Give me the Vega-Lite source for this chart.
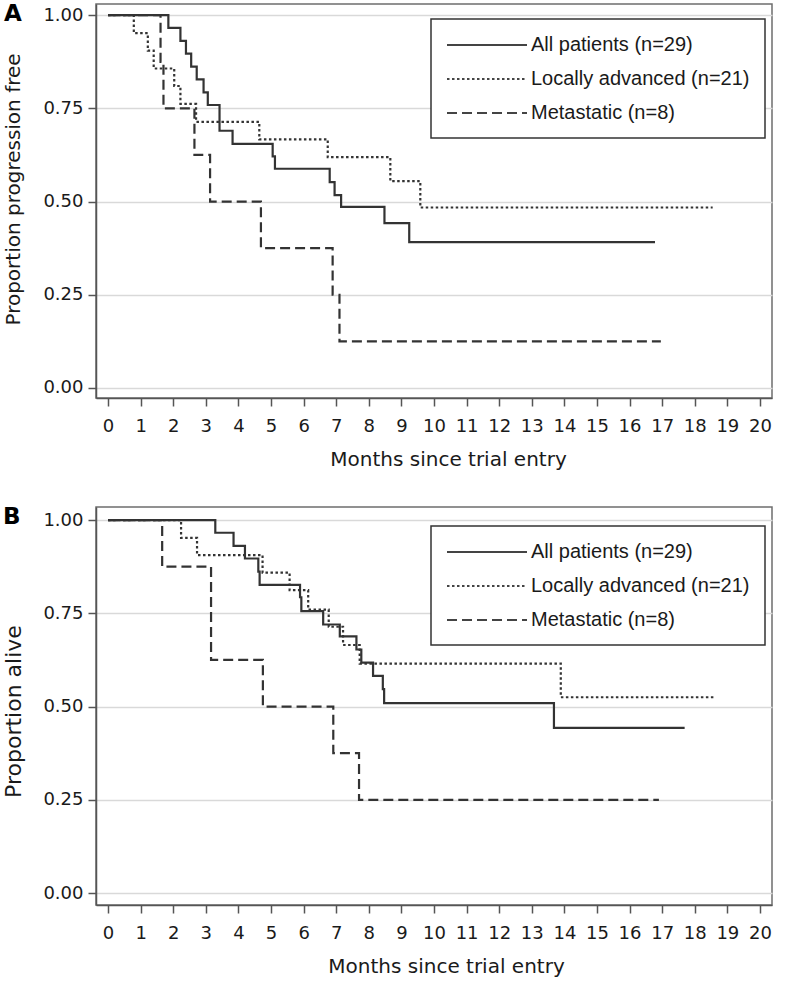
{
  "$schema": "https://vega.github.io/schema/vega-lite/v6.json",
  "autosize": {"type": "pad"},
  "padding": {"left": 2, "top": 2, "right": 0, "bottom": 0},
  "background": "white",
  "config": {
    "view": {"stroke": "#6e6e6e", "strokeWidth": 1.5},
    "axis": {
      "domainColor": "#555555", "domainWidth": 1.5,
      "tickColor": "#555555", "tickWidth": 1.5, "tickSize": 8,
      "labelFont": "DejaVu Sans", "labelFontSize": 18, "labelColor": "#1a1a1a",
      "titleFont": "DejaVu Sans", "titleFontSize": 20, "titleFontWeight": "normal", "titleColor": "#1a1a1a",
      "labelFlush": false, "labelOverlap": false
    },
    "title": {"font": "DejaVu Sans", "fontSize": 23, "fontWeight": "bold", "color": "#000000", "anchor": "start", "frame": "bounds"},
    "legend": {
      "orient": "none", "legendX": 335, "legendY": 15,
      "strokeColor": "#333333", "fillColor": "white", "padding": 15,
      "labelFont": "Liberation Sans", "labelFontSize": 20, "labelColor": "#1a1a1a", "labelLimit": 400,
      "symbolType": "M-1,0H7", "symbolSize": 400, "symbolStrokeWidth": 1.8, "symbolStrokeColor": "#444444",
      "rowPadding": 13, "labelOffset": 63
    }
  },
  "datasets": {
    "km": [
      {"panel": "A", "group": "All patients (n=29)", "month": 0, "prop": 1},
      {"panel": "A", "group": "All patients (n=29)", "month": 1.85, "prop": 0.966},
      {"panel": "A", "group": "All patients (n=29)", "month": 2.22, "prop": 0.931},
      {"panel": "A", "group": "All patients (n=29)", "month": 2.39, "prop": 0.897},
      {"panel": "A", "group": "All patients (n=29)", "month": 2.55, "prop": 0.862},
      {"panel": "A", "group": "All patients (n=29)", "month": 2.72, "prop": 0.828},
      {"panel": "A", "group": "All patients (n=29)", "month": 2.93, "prop": 0.793},
      {"panel": "A", "group": "All patients (n=29)", "month": 3.06, "prop": 0.759},
      {"panel": "A", "group": "All patients (n=29)", "month": 3.42, "prop": 0.69},
      {"panel": "A", "group": "All patients (n=29)", "month": 3.82, "prop": 0.655},
      {"panel": "A", "group": "All patients (n=29)", "month": 5.05, "prop": 0.621},
      {"panel": "A", "group": "All patients (n=29)", "month": 5.12, "prop": 0.588},
      {"panel": "A", "group": "All patients (n=29)", "month": 6.8, "prop": 0.552},
      {"panel": "A", "group": "All patients (n=29)", "month": 6.95, "prop": 0.517},
      {"panel": "A", "group": "All patients (n=29)", "month": 7.15, "prop": 0.486},
      {"panel": "A", "group": "All patients (n=29)", "month": 8.48, "prop": 0.442},
      {"panel": "A", "group": "All patients (n=29)", "month": 9.24, "prop": 0.391},
      {"panel": "A", "group": "All patients (n=29)", "month": 16.78, "prop": 0.391},
      {"panel": "A", "group": "Locally advanced (n=21)", "month": 0, "prop": 1},
      {"panel": "A", "group": "Locally advanced (n=21)", "month": 0.79, "prop": 0.952},
      {"panel": "A", "group": "Locally advanced (n=21)", "month": 1.22, "prop": 0.905},
      {"panel": "A", "group": "Locally advanced (n=21)", "month": 1.4, "prop": 0.857},
      {"panel": "A", "group": "Locally advanced (n=21)", "month": 2.03, "prop": 0.81},
      {"panel": "A", "group": "Locally advanced (n=21)", "month": 2.22, "prop": 0.762},
      {"panel": "A", "group": "Locally advanced (n=21)", "month": 2.7, "prop": 0.714},
      {"panel": "A", "group": "Locally advanced (n=21)", "month": 4.64, "prop": 0.667},
      {"panel": "A", "group": "Locally advanced (n=21)", "month": 6.74, "prop": 0.619},
      {"panel": "A", "group": "Locally advanced (n=21)", "month": 8.66, "prop": 0.555},
      {"panel": "A", "group": "Locally advanced (n=21)", "month": 9.58, "prop": 0.484},
      {"panel": "A", "group": "Locally advanced (n=21)", "month": 18.55, "prop": 0.484},
      {"panel": "A", "group": "Metastatic (n=8)", "month": 0, "prop": 1},
      {"panel": "A", "group": "Metastatic (n=8)", "month": 1.61, "prop": 0.875},
      {"panel": "A", "group": "Metastatic (n=8)", "month": 1.7, "prop": 0.75},
      {"panel": "A", "group": "Metastatic (n=8)", "month": 2.65, "prop": 0.625},
      {"panel": "A", "group": "Metastatic (n=8)", "month": 3.13, "prop": 0.5},
      {"panel": "A", "group": "Metastatic (n=8)", "month": 4.69, "prop": 0.375},
      {"panel": "A", "group": "Metastatic (n=8)", "month": 6.89, "prop": 0.25},
      {"panel": "A", "group": "Metastatic (n=8)", "month": 7.1, "prop": 0.125},
      {"panel": "A", "group": "Metastatic (n=8)", "month": 16.96, "prop": 0.125},
      {"panel": "B", "group": "All patients (n=29)", "month": 0, "prop": 1},
      {"panel": "B", "group": "All patients (n=29)", "month": 3.29, "prop": 0.966},
      {"panel": "B", "group": "All patients (n=29)", "month": 3.85, "prop": 0.931},
      {"panel": "B", "group": "All patients (n=29)", "month": 4.2, "prop": 0.897},
      {"panel": "B", "group": "All patients (n=29)", "month": 4.61, "prop": 0.862},
      {"panel": "B", "group": "All patients (n=29)", "month": 4.65, "prop": 0.826},
      {"panel": "B", "group": "All patients (n=29)", "month": 5.89, "prop": 0.793},
      {"panel": "B", "group": "All patients (n=29)", "month": 5.93, "prop": 0.756},
      {"panel": "B", "group": "All patients (n=29)", "month": 6.6, "prop": 0.72},
      {"panel": "B", "group": "All patients (n=29)", "month": 7.11, "prop": 0.688},
      {"panel": "B", "group": "All patients (n=29)", "month": 7.62, "prop": 0.653},
      {"panel": "B", "group": "All patients (n=29)", "month": 7.77, "prop": 0.618},
      {"panel": "B", "group": "All patients (n=29)", "month": 8.13, "prop": 0.582},
      {"panel": "B", "group": "All patients (n=29)", "month": 8.43, "prop": 0.547},
      {"panel": "B", "group": "All patients (n=29)", "month": 8.47, "prop": 0.509},
      {"panel": "B", "group": "All patients (n=29)", "month": 13.68, "prop": 0.443},
      {"panel": "B", "group": "All patients (n=29)", "month": 17.69, "prop": 0.443},
      {"panel": "B", "group": "Locally advanced (n=21)", "month": 0, "prop": 1},
      {"panel": "B", "group": "Locally advanced (n=21)", "month": 2.24, "prop": 0.952},
      {"panel": "B", "group": "Locally advanced (n=21)", "month": 2.73, "prop": 0.906},
      {"panel": "B", "group": "Locally advanced (n=21)", "month": 4.74, "prop": 0.859},
      {"panel": "B", "group": "Locally advanced (n=21)", "month": 5.57, "prop": 0.812},
      {"panel": "B", "group": "Locally advanced (n=21)", "month": 6.14, "prop": 0.76},
      {"panel": "B", "group": "Locally advanced (n=21)", "month": 6.77, "prop": 0.714},
      {"panel": "B", "group": "Locally advanced (n=21)", "month": 7.21, "prop": 0.665},
      {"panel": "B", "group": "Locally advanced (n=21)", "month": 7.72, "prop": 0.615},
      {"panel": "B", "group": "Locally advanced (n=21)", "month": 13.89, "prop": 0.525},
      {"panel": "B", "group": "Locally advanced (n=21)", "month": 18.58, "prop": 0.525},
      {"panel": "B", "group": "Metastatic (n=8)", "month": 0, "prop": 1},
      {"panel": "B", "group": "Metastatic (n=8)", "month": 1.66, "prop": 0.875},
      {"panel": "B", "group": "Metastatic (n=8)", "month": 3.16, "prop": 0.625},
      {"panel": "B", "group": "Metastatic (n=8)", "month": 4.75, "prop": 0.5},
      {"panel": "B", "group": "Metastatic (n=8)", "month": 6.91, "prop": 0.375},
      {"panel": "B", "group": "Metastatic (n=8)", "month": 7.7, "prop": 0.25},
      {"panel": "B", "group": "Metastatic (n=8)", "month": 16.9, "prop": 0.25}
    ]
  },
  "spacing": 35,
  "resolve": {"scale": {"strokeDash": "independent"}, "legend": {"strokeDash": "independent"}},
  "vconcat": [
    {
      "title": {"text": "A", "offset": -22},
      "width": 676,
      "height": 394,
      "data": {"name": "km"},
      "transform": [{"filter": "datum.panel == 'A'"}],
      "mark": {"type": "line", "interpolate": "step-after", "color": "#333333", "strokeWidth": 2.2},
      "encoding": {
        "x": {
          "field": "month", "type": "quantitative",
          "scale": {"domain": [-0.37, 20.37], "nice": false, "zero": false},
          "axis": {"values": [0,1,2,3,4,5,6,7,8,9,10,11,12,13,14,15,16,17,18,19,20], "format": "d", "grid": false, "labelPadding": 11, "title": "Months since trial entry", "titlePadding": 14, "titleX": 352}
        },
        "y": {
          "field": "prop", "type": "quantitative",
          "scale": {"domain": [-0.027, 1.03], "nice": false, "zero": false},
          "axis": {"values": [0, 0.25, 0.5, 0.75, 1], "format": ".2f", "grid": true, "gridColor": "#d9d9d9", "gridWidth": 1.5, "labelPadding": 5, "title": "Proportion progression free", "titlePadding": 19, "titleY": 185}
        },
        "strokeDash": {
          "field": "group", "type": "nominal",
          "scale": {"domain": ["All patients (n=29)", "Locally advanced (n=21)", "Metastatic (n=8)"], "range": [[1, 0], [2.5, 2.5], [10, 5]]},
          "legend": {"title": null, "encode": {"legend": {"update": {"strokeWidth": {"value": 1.5}}}}}
        }
      }
    },
    {
      "title": {"text": "B", "offset": -22},
      "width": 676,
      "height": 398,
      "data": {"name": "km"},
      "transform": [{"filter": "datum.panel == 'B'"}],
      "mark": {"type": "line", "interpolate": "step-after", "color": "#333333", "strokeWidth": 2.2},
      "encoding": {
        "x": {
          "field": "month", "type": "quantitative",
          "scale": {"domain": [-0.37, 20.37], "nice": false, "zero": false},
          "axis": {"values": [0,1,2,3,4,5,6,7,8,9,10,11,12,13,14,15,16,17,18,19,20], "format": "d", "grid": false, "labelPadding": 11, "title": "Months since trial entry", "titlePadding": 14, "titleX": 350}
        },
        "y": {
          "field": "prop", "type": "quantitative",
          "scale": {"domain": [-0.032, 1.035], "nice": false, "zero": false},
          "axis": {"values": [0, 0.25, 0.5, 0.75, 1], "format": ".2f", "grid": true, "gridColor": "#d9d9d9", "gridWidth": 1.5, "labelPadding": 5, "title": "Proportion alive", "titleFontSize": 22, "titlePadding": 17, "titleY": 204}
        },
        "strokeDash": {
          "field": "group", "type": "nominal",
          "scale": {"domain": ["All patients (n=29)", "Locally advanced (n=21)", "Metastatic (n=8)"], "range": [[1, 0], [2.5, 2.5], [10, 5]]},
          "legend": {"title": null, "legendY": 19, "encode": {"legend": {"update": {"strokeWidth": {"value": 1.5}}}}}
        }
      }
    }
  ]
}
